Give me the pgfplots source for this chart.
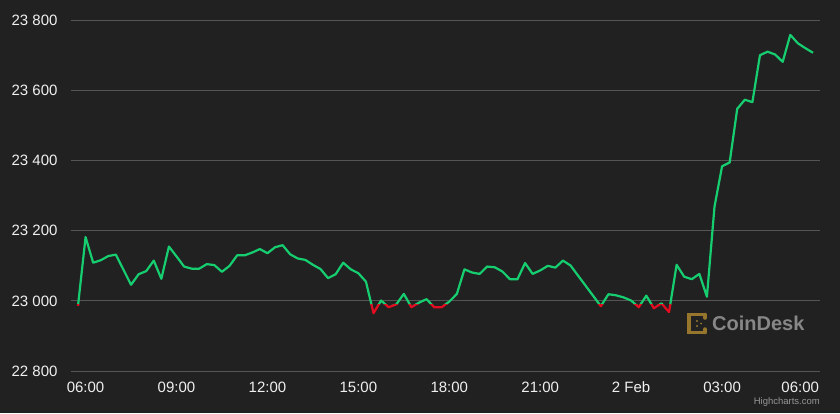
\documentclass[border=0pt]{standalone}
\usepackage{pgfplots}
\pgfplotsset{compat=1.18}
\usepackage{pgfplotstable}
\usepackage{fontspec}
\setmainfont{Liberation Sans}
\definecolor{bg}{RGB}{33,33,33}
\definecolor{gridc}{RGB}{85,85,85}
\definecolor{upg}{RGB}{22,206,112}
\definecolor{dnr}{RGB}{228,12,32}
\definecolor{lbl}{RGB}{240,240,240}
\definecolor{gold}{RGB}{150,118,45}
\definecolor{cdgray}{RGB}{135,135,135}
\definecolor{credit}{RGB}{150,150,150}

\pgfplotstableread{
t p
5.75 22986
6.00 23182
6.25 23109
6.50 23116
6.75 23128
7.00 23132
7.25 23089
7.50 23046
7.75 23076
8.00 23085
8.25 23115
8.50 23063
8.75 23155
9.00 23127
9.25 23098
9.50 23092
9.75 23092
10.00 23105
10.25 23102
10.50 23083
10.75 23100
11.00 23130
11.25 23130
11.50 23138
11.75 23148
12.00 23136
12.25 23153
12.50 23159
12.75 23133
13.00 23121
13.25 23117
13.50 23103
13.75 23091
14.00 23065
14.25 23076
14.50 23109
14.75 23090
15.00 23079
15.25 23055
15.50 22965
15.75 23001
16.00 22982
16.25 22990
16.50 23020
16.75 22982
17.00 22995
17.25 23005
17.50 22982
17.75 22982
18.00 22998
18.25 23020
18.50 23090
18.75 23081
19.00 23077
19.25 23098
19.50 23096
19.75 23084
20.00 23062
20.25 23062
20.50 23108
20.75 23077
21.00 23087
21.25 23100
21.50 23095
21.75 23115
22.00 23101
22.25 23072
22.50 23043
22.75 23014
23.00 22985
23.25 23019
23.50 23016
23.75 23010
24.00 23001
24.25 22982
24.50 23015
24.75 22979
25.00 22993
25.25 22968
25.50 23103
25.75 23069
26.00 23062
26.25 23077
26.50 23012
26.75 23269
27.00 23384
27.25 23395
27.50 23548
27.75 23574
28.00 23567
28.25 23701
28.50 23711
28.75 23703
29.00 23682
29.25 23759
29.50 23735
29.75 23721
30.00 23708
}\prices

\begin{document}
\begin{tikzpicture}[x=1pt,y=1pt]
\fill[bg] (0,0) rectangle (840,413);
\begin{axis}[
  at={(71pt,42pt)}, anchor=south west,
  scale only axis, width=749pt, height=350.5pt,
  xmin=5.519, xmax=30.231, ymin=22800, ymax=23800,
  axis line style={draw=none},
  major tick length=0pt,
  ymajorgrids, grid style={gridc, line width=1pt},
  ytick={22800,23000,23200,23400,23600,23800},
  scaled y ticks=false,
  yticklabel={\pgfmathprintnumber[fixed, precision=0, 1000 sep={\ }, assume math mode=true]{\tick}},
  xtick={6,9,12,15,18,21,24,27,30},
  xticklabels={06:00,09:00,12:00,15:00,18:00,21:00,2 Feb,03:00,{\hbox to 0pt{\hss 06:00\kern-6pt}}},
  tick label style={font=\fontsize{15}{18}\selectfont, text=lbl},
  yticklabel style={anchor=east, xshift=-10pt},
  xticklabel style={anchor=north, yshift=-7pt},
]
\begin{scope}
\clip (axis cs:5,22989) rectangle (axis cs:31,23900);
\addplot[upg, line width=2.2pt, line join=round] table[x=t,y=p]{\prices};
\end{scope}
\begin{scope}
\clip (axis cs:5,22700) rectangle (axis cs:31,22989);
\addplot[dnr, line width=2.2pt, line join=round] table[x=t,y=p]{\prices};
\end{scope}
\end{axis}
% CoinDesk watermark
\draw[gold, line width=3.5pt, line cap=round] (705,98.5) -- (689,98.5) -- (689,80.5) -- (705,80.5);
\draw[gold, line width=3.5pt, line cap=round] (705,98.5) -- (705,95);
\draw[gold, line width=3.5pt, line cap=round] (705,80.5) -- (705,84);
\fill[gold] (697,92) circle (1.2) (697,87) circle (1.2) (701,89.5) circle (1.0);
\node[anchor=west, text=cdgray, font=\bfseries\fontsize{20}{24}\selectfont, inner sep=0pt] at (712,89.5) {CoinDesk};
\node[anchor=east, text=credit, font=\fontsize{9.5}{11}\selectfont, inner sep=0pt] at (820,10.5) {Highcharts.com};
\end{tikzpicture}
\end{document}
